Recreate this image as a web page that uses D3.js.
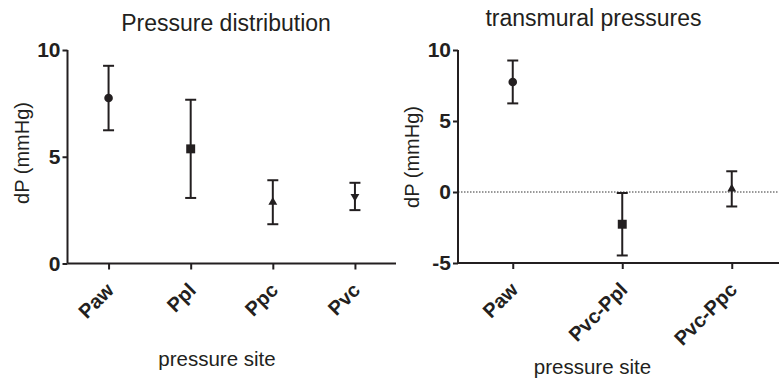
<!DOCTYPE html>
<html>
<head>
<meta charset="utf-8">
<script src="https://cdn.jsdelivr.net/npm/d3@7"></script>
<style>
  html, body { margin: 0; padding: 0; background: #fff; }
  svg { display: block; font-family: "Liberation Sans", Arial, sans-serif; }
</style>
</head>
<body>
<svg id="chart" width="779" height="382"></svg>
<script>
// Pressure distribution (mean ± error) by site
const siteNames = ["Paw", "Ppl", "Ppc", "Pvc"];
const siteMeans = [7.75, 5.37, 2.87, 3.14];
const siteErrors = [1.51, 2.30, 1.03, 0.64];
const siteMarkers = ["circle", "square", "triangle", "triangleDown"];
const siteTicks = [0, 5, 10];

// Transmural pressures (mean ± error)
const transNames = ["Paw", "Pvc-Ppl", "Pvc-Ppc"];
const transMeans = [7.75, -2.27, 0.22];
const transErrors = [1.51, 2.20, 1.24];
const transMarkers = ["circle", "square", "triangle"];
const transTicks = [-5, 0, 5, 10];

const ink = "#231f20";
const fontStack = "'Liberation Sans', Arial, sans-serif";
const svg = d3.select("#chart");

function markerPath(kind) {
  if (kind === "circle") return d3.symbol(d3.symbolCircle, 58)();
  if (kind === "square") return d3.symbol(d3.symbolSquare, 80)();
  return d3.symbol(d3.symbolTriangle, 34)();
}

function panel(opts) {
  const g = svg.append("g");
  const x = d3.scalePoint().domain(opts.names).range([opts.x0, opts.x1]).padding(0.5);
  const y = d3.scaleLinear().domain(opts.domain).range([opts.yBottom, opts.yTop]);

  // zero reference line
  if (opts.zeroLine) {
    g.append("line")
      .attr("x1", opts.x0).attr("x2", 779)
      .attr("y1", y(0)).attr("y2", y(0))
      .attr("stroke", "#333").attr("stroke-width", 1)
      .attr("stroke-dasharray", "1.5,1.5");
  }

  // y axis (plain hyphen for negative ticks)
  const ya = g.append("g")
    .attr("transform", `translate(${opts.x0},0)`)
    .call(d3.axisLeft(y).tickValues(opts.ticks).tickSize(5).tickPadding(2).tickFormat(d => String(d)));
  ya.select(".domain").attr("stroke", ink).attr("stroke-width", 2)
    .attr("d", `M0,${opts.yBottom}V${opts.yTop}`);
  ya.selectAll(".tick line").attr("stroke", ink).attr("stroke-width", 2);
  ya.selectAll(".tick text")
    .attr("fill", ink).attr("font-size", 21).attr("font-weight", "bold")
    .attr("font-family", fontStack);

  // x axis
  const xa = g.append("g")
    .attr("transform", `translate(0,${opts.yBottom})`)
    .call(d3.axisBottom(x).tickSize(6).tickSizeOuter(0));
  xa.select(".domain").attr("stroke", ink).attr("stroke-width", 2)
    .attr("d", `M${opts.x0},0H${opts.xEnd}`);
  xa.selectAll(".tick line").attr("stroke", ink).attr("stroke-width", 2);
  xa.selectAll(".tick text")
    .attr("fill", ink).attr("font-size", 20).attr("font-weight", "bold")
    .attr("font-family", fontStack)
    .attr("text-anchor", "end")
    .attr("y", 0).attr("dy", 0)
    .attr("transform", "translate(6,28) rotate(-45)");

  // error bars
  const cap = 5.5;
  const pts = opts.names.map((n, i) => ({
    name: n, mean: opts.means[i], err: opts.errors[i], marker: opts.markers[i]
  }));
  const eb = g.append("g").attr("stroke", ink).attr("stroke-width", 2).attr("fill", "none");
  eb.selectAll(".stem").data(pts).join("line")
    .attr("x1", d => x(d.name)).attr("x2", d => x(d.name))
    .attr("y1", d => y(d.mean - d.err)).attr("y2", d => y(d.mean + d.err));
  eb.selectAll(".capHi").data(pts).join("line")
    .attr("x1", d => x(d.name) - cap).attr("x2", d => x(d.name) + cap)
    .attr("y1", d => y(d.mean + d.err)).attr("y2", d => y(d.mean + d.err));
  eb.selectAll(".capLo").data(pts).join("line")
    .attr("x1", d => x(d.name) - cap).attr("x2", d => x(d.name) + cap)
    .attr("y1", d => y(d.mean - d.err)).attr("y2", d => y(d.mean - d.err));

  // markers
  g.selectAll(".marker").data(pts).join("path")
    .attr("d", d => markerPath(d.marker))
    .attr("fill", ink)
    .attr("transform", d => `translate(${x(d.name)},${y(d.mean)})` + (d.marker === "triangleDown" ? " rotate(180)" : ""));

  // titles
  g.append("text")
    .attr("x", opts.titleX).attr("y", opts.titleY)
    .attr("text-anchor", "middle").attr("font-size", 23).attr("fill", ink)
    .text(opts.title);
  g.append("text")
    .attr("transform", `translate(${opts.yTitleX},${opts.yTitleY}) rotate(-90)`)
    .attr("text-anchor", "middle").attr("font-size", 20).attr("fill", ink)
    .text("dP (mmHg)");
  g.append("text")
    .attr("x", opts.xTitleX).attr("y", opts.xTitleY)
    .attr("text-anchor", "middle").attr("font-size", 20.5).attr("fill", ink)
    .text("pressure site");
}

panel({
  names: siteNames, means: siteMeans, errors: siteErrors, markers: siteMarkers,
  ticks: siteTicks, domain: [0, 10],
  x0: 67.5, x1: 396, xEnd: 396, yTop: 50, yBottom: 263.5,
  title: "Pressure distribution", titleX: 226, titleY: 31,
  yTitleX: 29, yTitleY: 153, xTitleX: 217, xTitleY: 366,
  zeroLine: false
});

panel({
  names: transNames, means: transMeans, errors: transErrors, markers: transMarkers,
  ticks: transTicks, domain: [-5, 10],
  x0: 458, x1: 786.5, xEnd: 779, yTop: 50, yBottom: 263,
  title: "transmural pressures", titleX: 593.5, titleY: 26,
  yTitleX: 419, yTitleY: 157, xTitleX: 592.5, xTitleY: 374,
  zeroLine: true
});
</script>
</body>
</html>
